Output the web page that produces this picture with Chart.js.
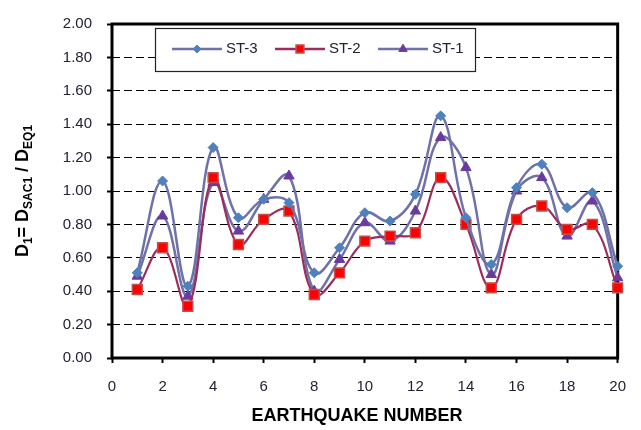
<!DOCTYPE html>
<html>
<head>
<meta charset="utf-8">
<script src="https://cdn.jsdelivr.net/npm/chart.js@4/dist/chart.umd.min.js"></script>
<style>
    html, body { margin: 0; padding: 0; background: #fff; }
    #wrap { width: 641px; height: 430px; }
</style>
</head>
<body>
<div id="wrap"><canvas id="chart" width="641" height="430"></canvas></div>
<script>
var eqNumbers = [1, 2, 3, 4, 5, 6, 7, 8, 9, 10, 11, 12, 13, 14, 15, 16, 17, 18, 19, 20];
var st3 = [0.51, 1.06, 0.43, 1.26, 0.84, 0.95, 0.93, 0.51, 0.66, 0.87, 0.82, 0.98, 1.45, 0.84, 0.56, 1.02, 1.16, 0.90, 0.99, 0.55];
var st2 = [0.41, 0.66, 0.31, 1.08, 0.68, 0.83, 0.88, 0.38, 0.51, 0.70, 0.73, 0.75, 1.08, 0.80, 0.42, 0.83, 0.91, 0.77, 0.80, 0.42];
var st1 = [0.49, 0.85, 0.37, 1.05, 0.76, 0.95, 1.09, 0.40, 0.59, 0.81, 0.70, 0.88, 1.32, 1.14, 0.50, 1.00, 1.08, 0.73, 0.94, 0.48];
var xTicks = [0, 2, 4, 6, 8, 10, 12, 14, 16, 18, 20];
var yTicks = [0, 0.2, 0.4, 0.6, 0.8, 1.0, 1.2, 1.4, 1.6, 1.8, 2.0];

var FONT = '"Liberation Sans", Arial, sans-serif';
var TEXT = '#222233';

function toPoints(values) {
    return values.map(function (v, i) {
        return {x: eqNumbers[i], y: v};
    });
}

// frame around the plot area, drawn under the lines
var framePlugin = {
    id: 'frame',
    beforeDatasetsDraw: function (chart) {
        var a = chart.chartArea;
        var ctx = chart.ctx;
        ctx.save();
        ctx.strokeStyle = '#000';
        ctx.lineWidth = 3;
        ctx.strokeRect(a.left, a.top, a.right - a.left, a.bottom - a.top);
        ctx.restore();
    }
};

// boxed legend inside the plot + axis titles (y one has subscripts)
var extrasPlugin = {
    id: 'extras',
    afterDatasetsDraw: function (chart) {
        var ctx = chart.ctx;
        ctx.save();

        var bx = 155, by = 28, bw = 320, bh = 43;
        ctx.fillStyle = '#fff';
        ctx.fillRect(bx, by, bw, bh);
        ctx.strokeStyle = '#222';
        ctx.lineWidth = 1.2;
        ctx.strokeRect(bx + 0.5, by + 0.5, bw, bh);

        var starts = [172, 275, 378];
        var cy = by + 21;
        chart.data.datasets.forEach(function (ds, i) {
            var x0 = starts[i];
            ctx.strokeStyle = ds.borderColor;
            ctx.lineWidth = 2.5;
            ctx.beginPath();
            ctx.moveTo(x0, cy);
            ctx.lineTo(x0 + 50, cy);
            ctx.stroke();
            ctx.fillStyle = ds.pointBackgroundColor;
            ctx.strokeStyle = ds.pointBorderColor;
            ctx.lineWidth = ds.pointBorderWidth;
            Chart.helpers.drawPoint(ctx, {
                pointStyle: ds.pointStyle,
                radius: ds.pointRadius * 0.8,
                rotation: 0,
                borderWidth: ds.pointBorderWidth
            }, x0 + 25, cy);
            ctx.fillStyle = TEXT;
            ctx.font = '15px ' + FONT;
            ctx.textAlign = 'left';
            ctx.textBaseline = 'middle';
            ctx.fillText(ds.label, x0 + 54, cy);
        });
        ctx.restore();
    },
    afterDraw: function (chart) {
        var ctx = chart.ctx;
        var a = chart.chartArea;
        var parts = [
            ['D', false], ['1', true], ['= D', false], ['SAC1', true],
            [' / D', false], ['EQ1', true]
        ];
        var big = 'bold 18px ' + FONT;
        var small = 'bold 12px ' + FONT;
        ctx.save();
        var total = 0;
        parts.forEach(function (p) {
            ctx.font = p[1] ? small : big;
            total += ctx.measureText(p[0]).width;
        });
        ctx.translate(22, (a.top + a.bottom) / 2);
        ctx.rotate(-Math.PI / 2);
        ctx.fillStyle = '#000';
        ctx.textBaseline = 'alphabetic';
        ctx.textAlign = 'left';
        var x = -total / 2;
        parts.forEach(function (p) {
            ctx.font = p[1] ? small : big;
            ctx.fillText(p[0], x, p[1] ? 10 : 6);
            x += ctx.measureText(p[0]).width;
        });

        ctx.font = big;
        ctx.textAlign = 'center';
        ctx.setTransform(1, 0, 0, 1, 0, 0);
        ctx.textBaseline = 'middle';
        ctx.fillText('EARTHQUAKE NUMBER', 357, 416);
        ctx.restore();
    }
};

var slate = '#6E72A8';

new Chart(document.getElementById('chart').getContext('2d'), {
    type: 'line',
    data: {
        datasets: [
            {
                label: 'ST-3',
                data: toPoints(st3),
                borderColor: slate,
                borderWidth: 2.5,
                pointStyle: 'rectRot',
                pointRadius: 5,
                pointBackgroundColor: '#4F81BD',
                pointBorderColor: '#4F81BD',
                pointBorderWidth: 1,
                tension: 0.4,
                clip: false
            },
            {
                label: 'ST-2',
                data: toPoints(st2),
                borderColor: '#9B2D5E',
                borderWidth: 2.2,
                pointStyle: 'rect',
                pointRadius: 7,
                pointBackgroundColor: '#FF0000',
                pointBorderColor: '#C0504D',
                pointBorderWidth: 1.5,
                tension: 0.4,
                clip: false
            },
            {
                label: 'ST-1',
                data: toPoints(st1),
                borderColor: slate,
                borderWidth: 2.5,
                pointStyle: 'triangle',
                pointRadius: 6,
                pointBackgroundColor: '#6A3AA0',
                pointBorderColor: '#6A3AA0',
                pointBorderWidth: 1,
                tension: 0.4,
                clip: false
            }
        ]
    },
    options: {
        responsive: false,
        animation: false,
        events: [],
        layout: {padding: {left: 0, right: 22, top: 14, bottom: 0}},
        plugins: {
            legend: {display: false},
            tooltip: {enabled: false}
        },
        scales: {
            x: {
                type: 'linear',
                min: 0,
                max: 20,
                afterFit: function (s) { s.height = 72; },
                afterBuildTicks: function (s) {
                    s.ticks = xTicks.map(function (v) { return {value: v}; });
                },
                grid: {
                    drawOnChartArea: false,
                    drawTicks: true,
                    tickLength: 5,
                    tickWidth: 2,
                    tickColor: '#000'
                },
                border: {display: false},
                ticks: {
                    color: TEXT,
                    font: {family: FONT, size: 15},
                    padding: 15,
                    maxRotation: 0,
                    autoSkip: false
                }
            },
            y: {
                min: 0,
                max: 2,
                afterFit: function (s) { s.width = 112; },
                afterBuildTicks: function (s) {
                    s.ticks = yTicks.map(function (v) { return {value: v}; });
                },
                grid: {
                    color: '#000',
                    lineWidth: 1,
                    tickLength: 5,
                    tickWidth: 2,
                    tickColor: '#000'
                },
                border: {display: false, dash: [8, 4]},
                ticks: {
                    color: TEXT,
                    font: {family: FONT, size: 15},
                    padding: 15,
                    callback: function (v) { return Number(v).toFixed(2); }
                }
            }
        }
    },
    plugins: [framePlugin, extrasPlugin]
});
</script>
</body>
</html>
